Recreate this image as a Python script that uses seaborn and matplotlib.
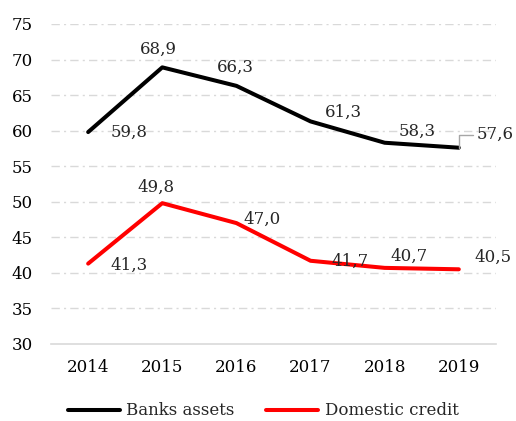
import matplotlib
matplotlib.use("Agg")
import matplotlib.pyplot as plt
import seaborn as sns
import pandas as pd

years = ["2014", "2015", "2016", "2017", "2018", "2019"]
banks_assets = [59.8, 68.9, 66.3, 61.3, 58.3, 57.6]
domestic_credit = [41.3, 49.8, 47.0, 41.7, 40.7, 40.5]
series_names = ["Banks assets", "Domestic credit"]
yticks = [30, 35, 40, 45, 50, 55, 60, 65, 70, 75]

sns.set_theme(style="white")
plt.rcParams["font.family"] = ["DejaVu Serif"]
FS = 12

df = pd.DataFrame({
    "year": years * 2,
    "value": banks_assets + domestic_credit,
    "series": [series_names[0]] * len(years) + [series_names[1]] * len(years),
})

fig = plt.figure(figsize=(5.16, 4.21), dpi=100)
ax = fig.add_axes([0.099, 0.183, 0.862, 0.760])

palette = {series_names[0]: "#000000", series_names[1]: "#ff0000"}
sns.lineplot(data=df, x="year", y="value", hue="series", palette=palette,
             linewidth=2.9, ax=ax, legend=False, sort=False)

ax.set_xlim(-0.5, len(years) - 0.5)
ax.set_ylim(30, 75)
ax.set_yticks(yticks)
ax.set_xlabel("")
ax.set_ylabel("")
for v in yticks[1:]:
    ax.axhline(v, color="#d9d9d9", linewidth=1.0, linestyle=(0, (6, 3, 1.5, 3)), zorder=0)
for s in ["top", "right", "left"]:
    ax.spines[s].set_visible(False)
ax.spines["bottom"].set_color("#d9d9d9")
ax.spines["bottom"].set_linewidth(1.2)
ax.tick_params(axis="both", length=0, labelsize=FS, colors="#000000")
ax.tick_params(axis="y", pad=13)
ax.tick_params(axis="x", pad=11)

fmt = lambda v: f"{v:.1f}".replace(".", ",")
off_b = [(41, 0), (-4, 18), (-1, 19), (33, 9), (33, 11), (36, 13)]
off_r = [(41, -2), (-6, 16), (26, 4), (40, -1), (24, 12), (34, 12)]
for i, (v, o) in enumerate(zip(banks_assets, off_b)):
    kw = {}
    if i == len(years) - 1:
        kw = dict(arrowprops=dict(arrowstyle="-", color="#a6a6a6", lw=1.0,
                                  connectionstyle="angle,angleA=0,angleB=90,rad=0",
                                  shrinkA=18, shrinkB=0))
    ax.annotate(fmt(v), (i, v), xytext=o, textcoords="offset pixels",
                ha="center", va="center", fontsize=FS, **kw)
for i, (v, o) in enumerate(zip(domestic_credit, off_r)):
    ax.annotate(fmt(v), (i, v), xytext=o, textcoords="offset pixels",
                ha="center", va="center", fontsize=FS)

handles = [plt.Line2D([], [], color=palette[n], linewidth=2.9) for n in series_names]
fig.legend(handles, series_names, loc="center", bbox_to_anchor=(0.51, 0.024),
           ncol=2, frameon=False, fontsize=FS, handlelength=3.1,
           columnspacing=1.9, handletextpad=0.4)

fig.savefig("out.png", dpi=100)
